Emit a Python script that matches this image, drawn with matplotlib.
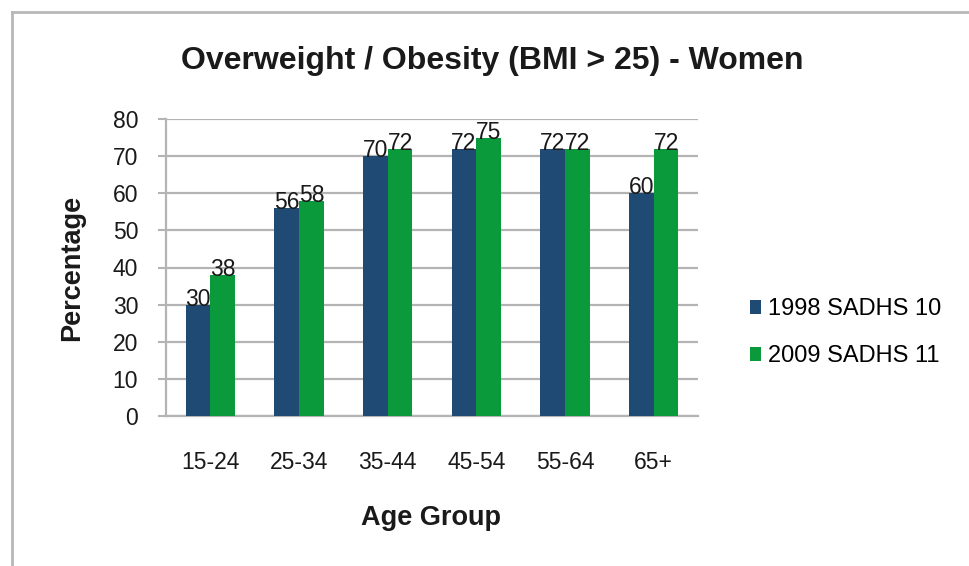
import numpy as np
import matplotlib.pyplot as plt
from matplotlib.lines import Line2D

plt.rcParams['font.family'] = ['Liberation Sans', 'DejaVu Sans']

age_groups = ['15-24', '25-34', '35-44', '45-54', '55-64', '65+']
sadhs_1998 = [30, 56, 70, 72, 72, 60]
sadhs_2009 = [38, 58, 72, 75, 72, 72]
series_names = ['1998 SADHS 10', '2009 SADHS 11']
y_ticks = [0, 10, 20, 30, 40, 50, 60, 70, 80]

blue = '#1f4a73'
green = '#0b9a3b'
grid_gray = '#b4b4b4'
text_col = '#1a1a1a'

fig = plt.figure(figsize=(9.7, 5.66), dpi=100)
ax = fig.add_axes([166 / 970, 1 - 416 / 566, (698 - 166) / 970, (416 - 119) / 566])

x = np.arange(len(age_groups))
w = 0.28
b1 = ax.bar(x - w / 2, sadhs_1998, w, color=blue, label=series_names[0], zorder=3)
b2 = ax.bar(x + w / 2, sadhs_2009, w, color=green, label=series_names[1], zorder=3)

# value labels sit right on top of each bar
for bars in (b1, b2):
    for rect in bars:
        h = rect.get_height()
        ax.text(rect.get_x() + rect.get_width() / 2, h - 0.3, f'{h:.0f}',
                ha='center', va='baseline', fontsize=16.5, color=text_col, zorder=4)

ax.set_xlim(-0.5, len(age_groups) - 0.5)
ax.set_ylim(0, 80)
ax.set_yticks(y_ticks)
ax.set_xticks(x)
ax.set_xticklabels(age_groups)
ax.tick_params(axis='x', length=0, pad=25, labelsize=16.5, labelcolor=text_col)
ax.tick_params(axis='y', length=6, width=1.5, color=grid_gray, pad=14,
               labelsize=16.5, labelcolor=text_col)
ax.yaxis.grid(True, color=grid_gray, linewidth=1.6, zorder=0)
for side in ('top', 'right'):
    ax.spines[side].set_visible(False)
for side in ('left', 'bottom'):
    ax.spines[side].set_color(grid_gray)
    ax.spines[side].set_linewidth(1.6)
ax.set_axisbelow(True)

ax.set_xlabel('Age Group', fontsize=19.5, fontweight='bold', color=text_col)
ax.xaxis.set_label_coords(0.499, -0.30)
ax.set_ylabel('Percentage', fontsize=19.5, fontweight='bold', color=text_col)
ax.yaxis.set_label_coords(-0.152, 0.5)

fig.text(492 / 970, 1 - 61 / 566, 'Overweight / Obesity (BMI > 25) - Women',
         ha='center', va='center', fontsize=23, fontweight='bold', color=text_col)

ax.legend(loc='center left', bbox_to_anchor=(1.057, 0.28), frameon=False,
          fontsize=17, handlelength=0.5, handleheight=0.5, handletextpad=0.3,
          labelspacing=1.05)

# outer frame of the chart (cropped screenshot)
fig.add_artist(Line2D([12 / 970, 12 / 970], [0, 1 - 12 / 566], transform=fig.transFigure,
                      color='#b8b8b8', linewidth=2))
fig.add_artist(Line2D([12 / 970, 1], [1 - 12 / 566, 1 - 12 / 566], transform=fig.transFigure,
                      color='#b8b8b8', linewidth=2))

fig.savefig('out.png', dpi=100)
